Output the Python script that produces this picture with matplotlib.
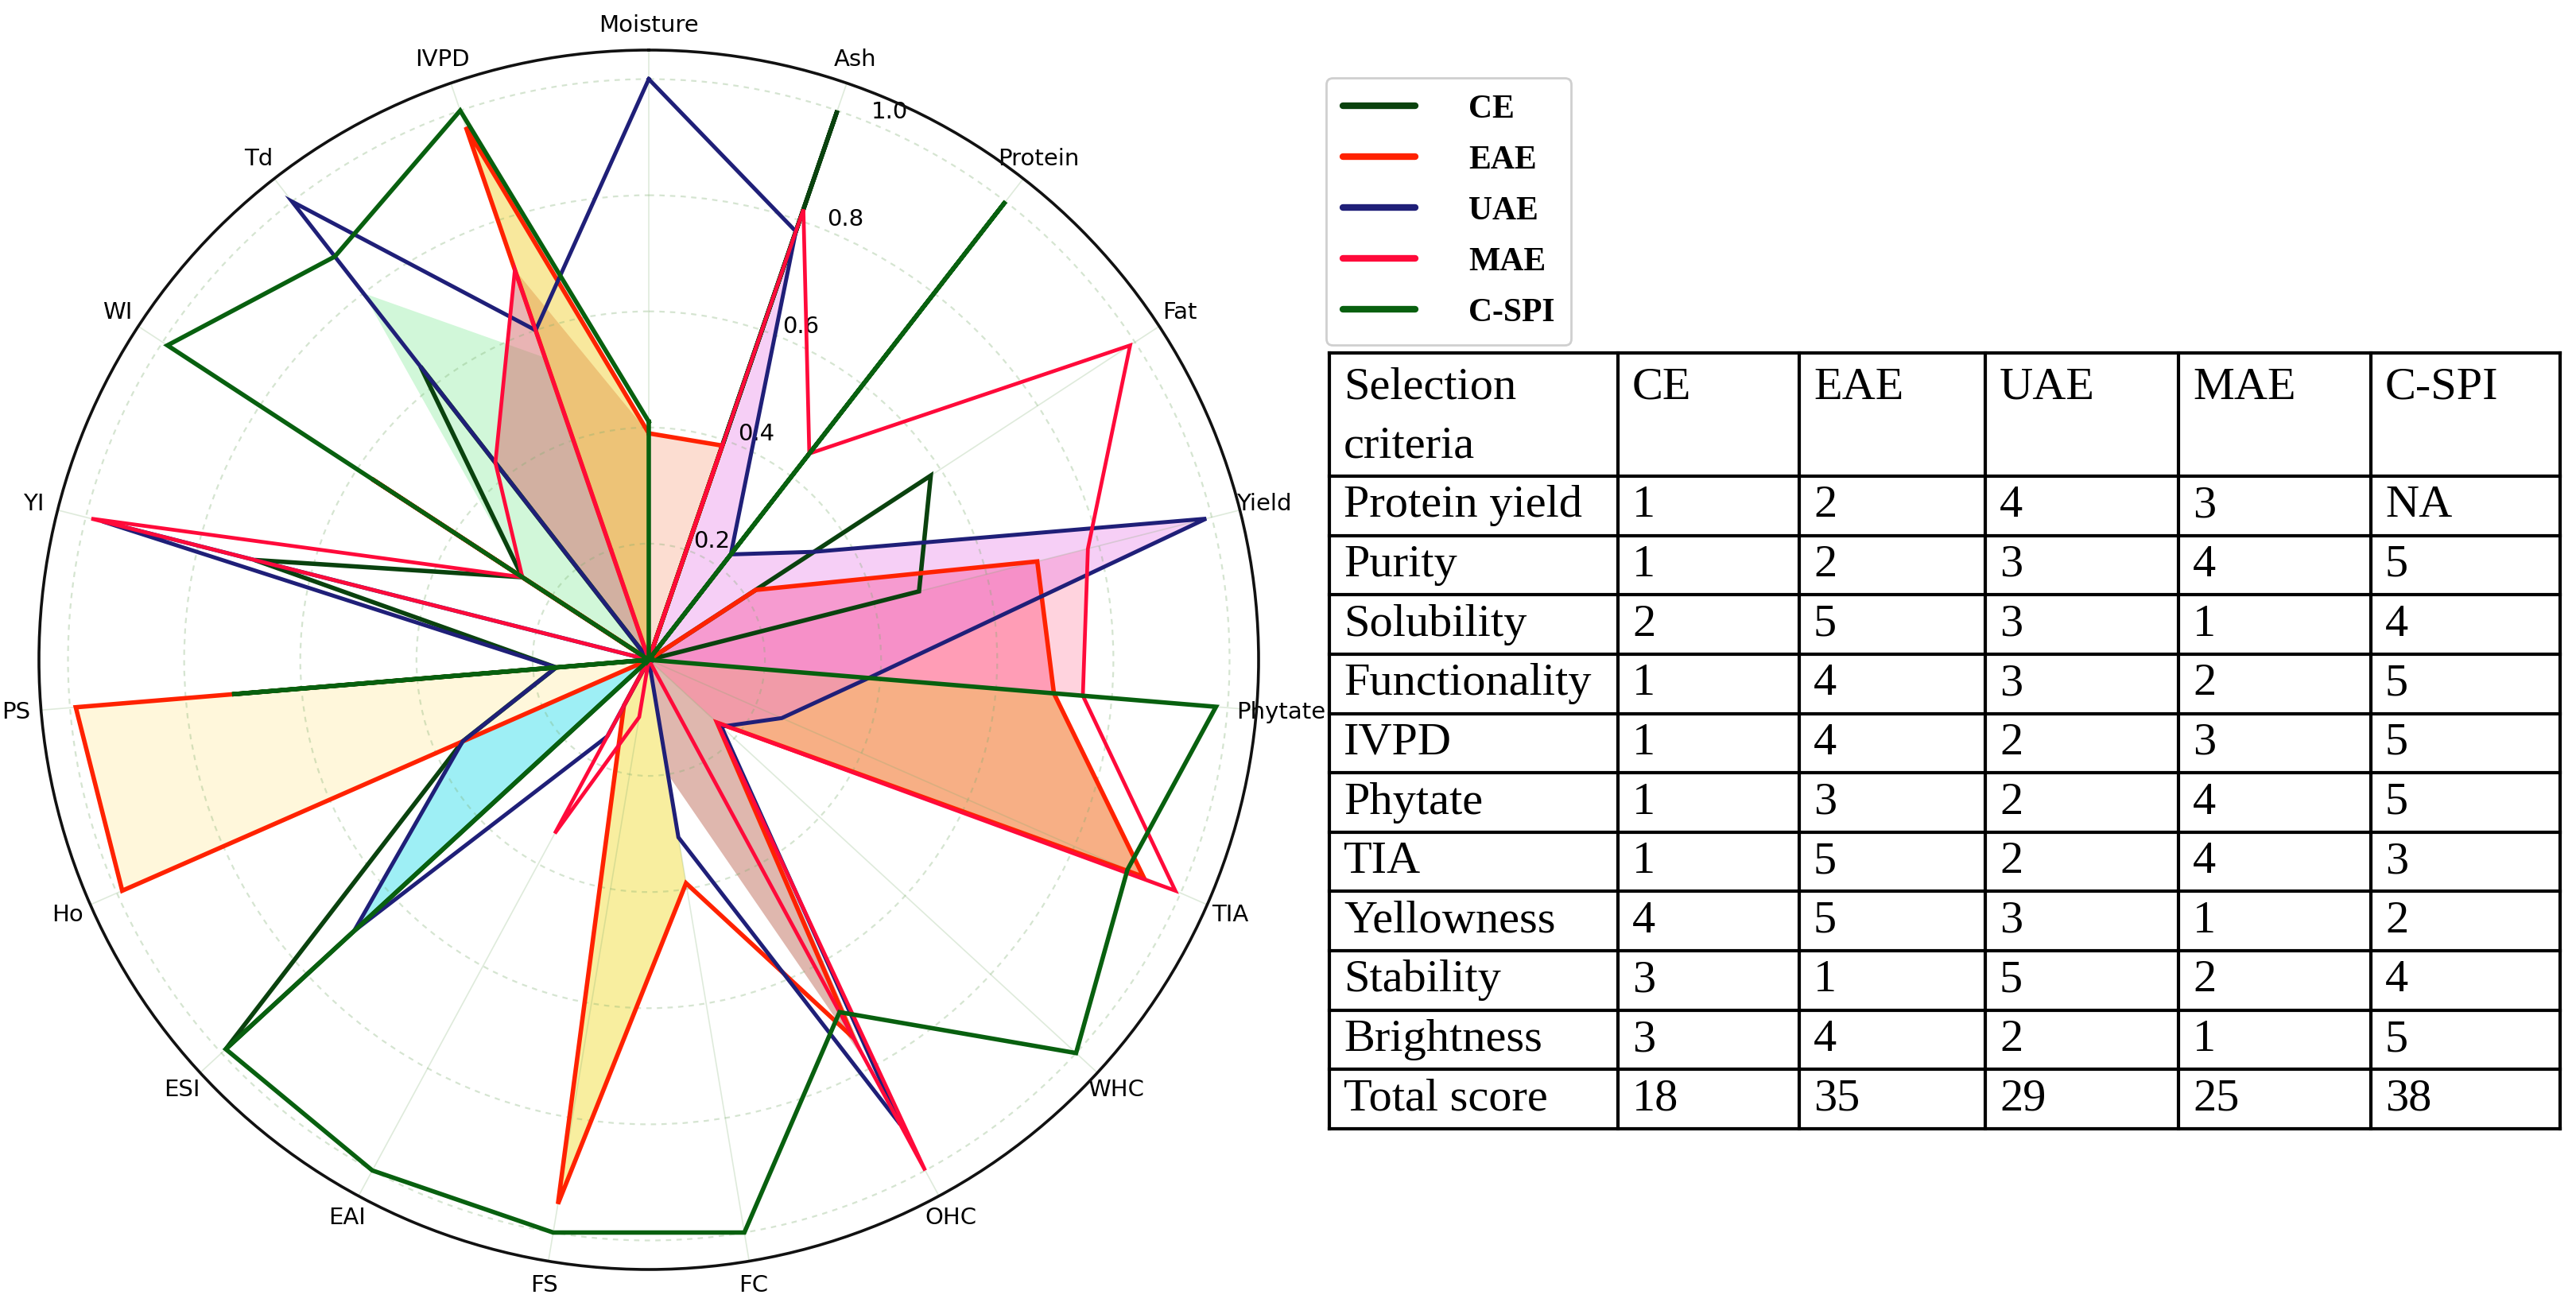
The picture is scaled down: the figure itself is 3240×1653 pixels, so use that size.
import numpy as np
import matplotlib
matplotlib.use('Agg')
import matplotlib.pyplot as plt
from matplotlib.lines import Line2D

# ---------------- data ----------------
categories = ['Moisture', 'Ash', 'Protein', 'Fat', 'Yield', 'Phytate', 'TIA', 'WHC',
              'OHC', 'FC', 'FS', 'EAI', 'ESI', 'Ho', 'PS', 'YI', 'WI', 'Td', 'IVPD']

ce   = [0.00, 1.00, 0.00, 0.58, 0.48, 0.00, 0.00, 0.00, 0.00, 0.00, 0.00, 0.00, 0.99, 0.35, 0.16, 0.70, 0.26, 0.64, 0.00]
eae  = [0.39, 0.39, 0.00, 0.22, 0.69, 0.70, 0.93, 0.16, 0.74, 0.39, 0.95, 0.09, 0.00, 0.99, 0.99, 0.00, 0.57, 0.00, 0.97]
uae  = [1.00, 0.78, 0.23, 0.34, 0.99, 0.38, 0.25, 0.17, 0.91, 0.31, 0.00, 0.15, 0.69, 0.35, 0.16, 0.97, 0.00, 1.00, 0.60]
mae  = [0.00, 0.82, 0.45, 0.99, 0.78, 0.75, 0.99, 0.16, 1.00, 0.00, 0.10, 0.34, 0.00, 0.00, 0.00, 0.99, 0.26, 0.43, 0.71]
cspi = [0.41, 0.00, 1.00, 0.00, 0.00, 0.98, 0.90, 1.00, 0.69, 1.00, 1.00, 1.00, 0.99, 0.00, 0.72, 0.00, 0.99, 0.88, 1.00]

series_names = ['CE', 'EAE', 'UAE', 'MAE', 'C-SPI']
series_colors = ['#0a420e', '#ff2200', '#1f1f78', '#ff0a3a', '#08600f']

# shaded areas (outer radius per category, 0 = not shaded)
fill_lightpink = [0, 0, 0, 0, 0.78, 0.75, 0, 0, 0, 0, 0, 0, 0, 0, 0, 0, 0, 0, 0]
fill_pink      = [0, 0, 0, 0.22, 0.69, 0.70, 0, 0, 0, 0, 0, 0, 0, 0, 0, 0, 0, 0, 0]
fill_orange    = [0, 0, 0, 0, 0, 0.70, 0.93, 0.16, 0, 0, 0, 0, 0, 0, 0, 0, 0, 0, 0]
fill_magenta   = [0, 0.78, 0.23, 0.34, 0.99, 0.38, 0.25, 0.17, 0, 0, 0, 0, 0, 0, 0, 0, 0, 0, 0]
fill_brown     = [0, 0, 0, 0, 0, 0, 0, 0.17, 0.80, 0.20, 0, 0, 0, 0, 0, 0, 0, 0, 0]
fill_yellow    = [0, 0, 0, 0, 0, 0, 0, 0, 0, 0.39, 0.95, 0.09, 0, 0, 0, 0, 0, 0, 0]
fill_ivory     = [0, 0, 0, 0, 0, 0, 0, 0, 0, 0, 0, 0, 0, 0.99, 0.99, 0, 0, 0, 0]
fill_cyan      = [0, 0, 0, 0, 0, 0, 0, 0, 0, 0, 0, 0, 0.69, 0.35, 0, 0, 0, 0, 0]
fill_green     = [0, 0, 0, 0, 0, 0, 0, 0, 0, 0, 0, 0, 0, 0, 0, 0, 0.26, 0.80, 0.55]
fill_rose      = [0.39, 0, 0, 0, 0, 0, 0, 0, 0, 0, 0, 0, 0, 0, 0, 0, 0, 0.43, 0.71]
fill_gold      = [0.39, 0, 0, 0, 0, 0, 0, 0, 0, 0, 0, 0, 0, 0, 0, 0, 0, 0, 0.97]
fill_peach     = [0.39, 0.39, 0, 0, 0, 0, 0, 0, 0, 0, 0, 0, 0, 0, 0, 0, 0, 0, 0]

fill_layers = [
    (fill_lightpink, '#ffb0c4', 0.55),
    (fill_pink, '#ff7a9c', 0.6),
    (fill_orange, '#f58e52', 0.7),
    (fill_magenta, '#e87ae8', 0.36),
    (fill_brown, '#b8604c', 0.45),
    (fill_yellow, '#f4e460', 0.6),
    (fill_ivory, '#fff3c4', 0.6),
    (fill_cyan, '#4fe3ee', 0.55),
    (fill_green, '#8ceca0', 0.4),
    (fill_rose, '#d46a6a', 0.5),
    (fill_gold, '#f2d23c', 0.5),
    (fill_peach, '#fbbca4', 0.5),
]

table_cols = ['CE', 'EAE', 'UAE', 'MAE', 'C-SPI']
criteria = ['Protein yield', 'Purity', 'Solubility', 'Functionality', 'IVPD', 'Phytate',
            'TIA', 'Yellowness', 'Stability', 'Brightness', 'Total score']
score_ce   = ['1', '1', '2', '1', '1', '1', '1', '4', '3', '3', '18']
score_eae  = ['2', '2', '5', '4', '4', '3', '5', '5', '1', '4', '35']
score_uae  = ['4', '3', '3', '3', '2', '2', '2', '3', '5', '2', '29']
score_mae  = ['3', '4', '1', '2', '3', '4', '4', '1', '2', '1', '25']
score_cspi = ['NA', '5', '4', '5', '5', '5', '3', '2', '4', '5', '38']

# ---------------- figure ----------------
W, H = 3241, 1653
fig = plt.figure(figsize=(W / 100, H / 100), dpi=100)

cx, cy, R = 816, 830, 767
ax = fig.add_axes([(cx - R) / W, (H - cy - R) / H, 2 * R / W, 2 * R / H], projection='polar')
ax.set_theta_offset(np.pi / 2)
ax.set_theta_direction(-1)

N = len(categories)
theta = np.arange(N) * 2 * np.pi / N


def closed(vals):
    return np.append(theta, theta[0]), np.append(vals, vals[0])


for vals, col, a in fill_layers:
    t, r = closed(np.array(vals, dtype=float))
    ax.fill(t, r, color=col, alpha=a, lw=0, zorder=2)

all_series = [ce, eae, uae, mae, cspi]
widths = [4.0, 4.0, 3.6, 3.4, 4.0]
for vals, name, col, lw in zip(all_series, series_names, series_colors, widths):
    t, r = closed(np.array(vals, dtype=float))
    ax.plot(t, r, color=col, lw=lw, zorder=4, solid_joinstyle='miter', label=name)

ax.set_axisbelow(False)
ax.set_ylim(0, 1.05)
ax.set_yticks([0.2, 0.4, 0.6, 0.8, 1.0])
ax.set_yticklabels(['0.2', '0.4', '0.6', '0.8', '1.0'], fontsize=21)
ax.set_rlabel_position(22.5)
ax.set_xticks(theta)
ax.set_xticklabels(categories, fontsize=21)
ax.tick_params(axis='x', pad=12)
ax.xaxis.grid(True, color='#7fae70', alpha=0.25, lw=1.2, ls='-')
ax.yaxis.grid(True, color='#7fae70', alpha=0.32, lw=1.6, ls=(0, (3, 3)))
ax.spines['polar'].set_linewidth(2.6)
ax.spines['polar'].set_color('#111111')
ax.spines['polar'].set_zorder(5)

# ---------------- legend ----------------
handles = [Line2D([0], [0], color=c, lw=6, solid_capstyle='round') for c in series_colors]
leg = fig.legend(handles, series_names, loc='upper left',
                 bbox_to_anchor=(1668 / W, 1 - 98 / H), borderaxespad=0,
                 prop={'family': 'Liberation Serif', 'weight': 'bold', 'size': 30},
                 handlelength=2.2, handletextpad=1.6, labelspacing=0.62, borderpad=0.5,
                 frameon=True, fancybox=True, edgecolor='#cfcfcf', framealpha=1)
leg.get_frame().set_linewidth(2.0)

# ---------------- table ----------------
xs = [1672, 2035, 2263, 2497, 2740, 2982, 3220]
y_top, y_bot = 444, 1420
hdr_h = 155
row_h = (y_bot - y_top - hdr_h) / len(criteria)
ys = [y_top, y_top + hdr_h] + [y_top + hdr_h + row_h * (i + 1) for i in range(len(criteria))]

tab = fig.add_axes([0, 0, 1, 1])
tab.set_xlim(0, W)
tab.set_ylim(H, 0)
tab.axis('off')
for x in xs:
    tab.plot([x, x], [y_top, y_bot], color='black', lw=3.0, solid_capstyle='projecting')
for y in ys:
    tab.plot([xs[0], xs[-1]], [y, y], color='black', lw=3.0, solid_capstyle='projecting')

tf = dict(family='Liberation Serif', fontsize=42, color='black')
tab.text(xs[0] + 18, y_top + 44, 'Selection', ha='left', va='center', **tf)
tab.text(xs[0] + 18, y_top + 118, 'criteria', ha='left', va='center', **tf)
for j, name in enumerate(table_cols):
    tab.text(xs[j + 1] + 18, y_top + 44, name, ha='left', va='center', **tf)

columns = [score_ce, score_eae, score_uae, score_mae, score_cspi]
for i, crit in enumerate(criteria):
    yc = y_top + hdr_h + row_h * (i + 0.5)
    tab.text(xs[0] + 18, yc, crit, ha='left', va='center', **tf)
    for j, col in enumerate(columns):
        tab.text(xs[j + 1] + 18, yc, col[i], ha='left', va='center', **tf)

fig.savefig('out.png', dpi=100, facecolor='white')
